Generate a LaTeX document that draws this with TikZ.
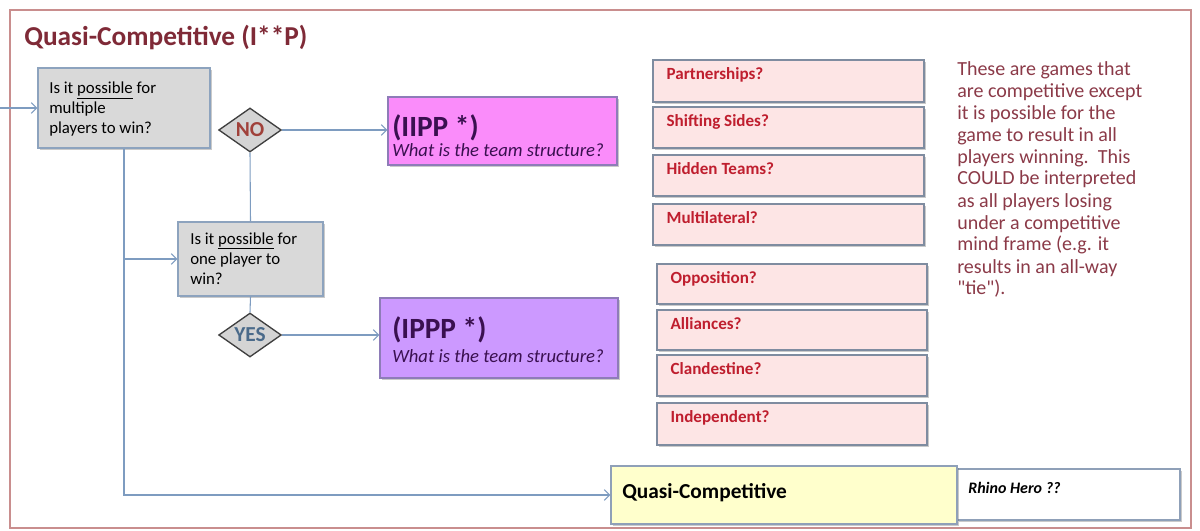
\documentclass[tikz,border=0pt]{standalone}
\usepackage{fontspec}
\setmainfont{Carlito}
\usetikzlibrary{arrows.meta,shapes.geometric,shadows,fit}
\definecolor{frameC}{HTML}{C98E8E}
\definecolor{titleC}{HTML}{7F2A37}
\definecolor{connC}{HTML}{7E9CC0}
\definecolor{qfill}{HTML}{D9D9D9}
\definecolor{qdraw}{HTML}{8DA3BE}
\definecolor{dfill}{HTML}{D4D4D4}
\definecolor{ddraw}{HTML}{3F3F3F}
\definecolor{noC}{HTML}{A0413A}
\definecolor{yesC}{HTML}{4A6A8A}
\definecolor{iippC}{HTML}{FA8CFA}
\definecolor{ipppC}{HTML}{CC99FF}
\definecolor{purdraw}{HTML}{8E7CB8}
\definecolor{purtext}{HTML}{3A1050}
\definecolor{pinkfill}{HTML}{FDE5E5}
\definecolor{pinkdraw}{HTML}{7F8CA0}
\definecolor{pinktext}{HTML}{BF1E2E}
\definecolor{descC}{HTML}{8B3A48}
\definecolor{yelfill}{HTML}{FFFFCC}
\definecolor{boxdraw}{HTML}{8FA0B8}
\tikzset{
  shad/.style={drop shadow={shadow xshift=1.2pt,shadow yshift=-1.5pt,fill=black!60,opacity=0.35}},
  qbox/.style={draw=qdraw,fill=qfill,line width=1.1pt,inner sep=0pt,shad},
  qtext/.style={anchor=base west,inner sep=0pt,align=left,font=\fontsize{12.6}{15}\selectfont},
  dia/.style={diamond,draw=ddraw,fill=dfill,line width=1pt,inner sep=0pt,aspect=1.43,minimum width=47pt,minimum height=33pt,font=\bfseries\fontsize{16}{18}\selectfont},
  purbox/.style={draw=purdraw,line width=1pt,inner sep=0pt,shad},
  purhead/.style={anchor=base west,inner sep=0pt,text=purtext,font=\bfseries\fontsize{22}{24}\selectfont},
  purital/.style={anchor=base west,inner sep=0pt,text=purtext,font=\itshape\fontsize{14}{16}\selectfont},
  pbox/.style={draw=pinkdraw,fill=pinkfill,line width=1pt,inner sep=0pt,shad},
  ptext/.style={anchor=base west,inner sep=0pt,text=pinktext,font=\bfseries\fontsize{12.8}{15}\selectfont},
  conn/.style={draw=connC,line width=0.8pt,-{Straight Barb[length=4pt,width=8pt]}},
  plain/.style={draw=connC,line width=0.8pt},
}
\newcommand\pinkbox[6]{%
  \node[pbox,fit={(#2,#3)(#4,#5)}] (#1) {};
  \node[ptext] (#1t) at ([shift={(14,20)}]#1.north west) {#6};}
\begin{document}
\begin{tikzpicture}[x=0.75pt,y=-0.75pt]
\useasboundingbox (0,0) rectangle (1200,531);
% frame
\node[draw=frameC,line width=1.3pt,inner sep=0pt,fit={(10,10)(1191,528)}] (frame) {};
\node[anchor=base west,inner sep=0pt,text=titleC,font=\bfseries\fontsize{20.5}{24}\selectfont] (title) at (24,46) {Quasi-Competitive (I**P)};
% question boxes
\node[qbox,fit={(38,68)(210,148)}] (q1) {};
\node[qtext] (q1t) at (49,134) {Is it \underline{possible} for\\multiple\\players to win?};
\node[qbox,fit={(178,222)(323,296)}] (q2) {};
\node[qtext] (q2t) at (190,284) {Is it \underline{possible} for\\one player to\\win?};
% diamonds
\node[dia,text=noC] (no) at (250,130) {NO};
\node[dia,text=yesC] (yes) at (250,335) {YES};
% purple boxes
\node[purbox,fill=iippC,fit={(388,97)(617,165)}] (iipp) {};
\node[purhead] (iipph) at (392,137) {(IIPP *)};
\node[purital] (iippi) at (392,157) {What is the team structure?};
\node[purbox,fill=ipppC,fit={(380,298)(618,378)}] (ippp) {};
\node[purhead] (ippph) at (392,338) {(IPPP *)};
\node[purital] (ipppi) at (392,362) {What is the team structure?};
% pink boxes
\pinkbox{pa}{653}{60}{924}{102}{Partnerships?}
\pinkbox{pb}{653}{107}{924}{148}{Shifting Sides?}
\pinkbox{pc}{653}{155}{924}{196}{Hidden Teams?}
\pinkbox{pd}{653}{204}{924}{245}{Multilateral?}
\pinkbox{pe}{657}{264}{927}{304}{Opposition?}
\pinkbox{pf}{657}{310}{927}{350}{Alliances?}
\pinkbox{pg}{657}{355}{927}{396}{Clandestine?}
\pinkbox{ph}{657}{403}{927}{445}{Independent?}
% description
\node[anchor=base west,inner sep=0pt,align=left,text=descC,font=\fontsize{15}{16.5}\selectfont] (desc) at (957,295)
 {These are games that\\are competitive except\\it is possible for the\\game to result in all\\players winning.\ \ This\\COULD be interpreted\\as all players losing\\under a competitive\\mind frame (e.g. it\\results in an all-way\\\textquotedbl tie\textquotedbl).};
% result boxes
\node[draw=boxdraw,fill=white,line width=1pt,inner sep=0pt,shad,fit={(957,469)(1180,520)}] (rh) {};
\node[anchor=base west,inner sep=0pt,font=\bfseries\itshape\fontsize{12}{14}\selectfont] (rht) at (968,493) {Rhino Hero ??};
\node[draw=boxdraw,fill=yelfill,line width=1pt,inner sep=0pt,shad,fit={(611,466)(957,524)}] (qc) {};
\node[anchor=base west,inner sep=0pt,font=\bfseries\fontsize{16}{18}\selectfont] (qct) at (622,498) {Quasi-Competitive};
% connectors
\coordinate (start) at (0,108);
\draw[conn] (start) -- (start -| q1.west);
\draw[conn] (q1.south) -- (q1.south |- qc.west) -- (qc.west);
\draw[conn] (q1.south |- q2.west) -- (q2.west);
\draw[plain] (q2.north) -- (no.south);
\draw[conn] (no.east) -- (no.east -| iipp.west);
\draw[plain] (q2.south) -- (yes.north);
\draw[conn] (yes.east) -- (yes.east -| ippp.west);
\end{tikzpicture}
\end{document}
